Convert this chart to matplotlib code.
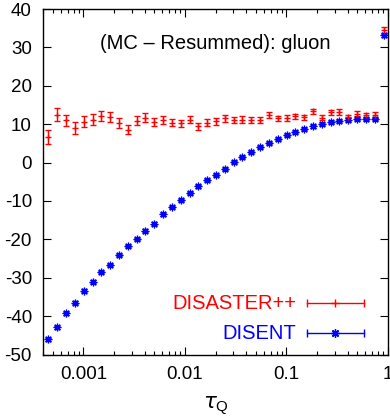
import matplotlib
matplotlib.use("Agg")
import matplotlib.pyplot as plt
from matplotlib.ticker import FixedLocator, FixedFormatter, LogLocator, NullFormatter

plt.rcParams['font.family'] = ['Liberation Sans', 'DejaVu Sans']
plt.rcParams['mathtext.fontset'] = 'custom'
plt.rcParams['mathtext.rm'] = 'Liberation Sans'
plt.rcParams['axes.unicode_minus'] = False

# bin centres in tau_Q
tau = [0.000453, 0.000553, 0.000676, 0.000825, 0.001008, 0.001231, 0.001503,
       0.001836, 0.002243, 0.002739, 0.003346, 0.004087, 0.004992, 0.006097,
       0.007447, 0.009095, 0.011109, 0.013569, 0.016573, 0.020242, 0.024724,
       0.030197, 0.036883, 0.045049, 0.055023, 0.067206, 0.082085, 0.100259,
       0.122456, 0.149569, 0.182684, 0.223130, 0.272532, 0.332871, 0.406570,
       0.496585, 0.606531, 0.740818, 0.904837]

disaster = [6.7, 12.5, 11.0, 9.0, 10.6, 11.2, 12.1, 11.9, 10.4, 8.6,
            10.9, 11.7, 10.6, 11.0, 10.4, 10.2, 11.2, 9.5, 10.4, 10.7,
            11.5, 11.1, 11.2, 11.1, 11.0, 12.3, 11.5, 11.6, 12.0, 11.8,
            13.3, 11.7, 13.1, 13.2, 11.8, 12.7, 12.3, 12.4, 34.6]
disaster_err = [1.75, 1.6, 1.5, 1.5, 1.4, 1.4, 1.35, 1.3, 1.3, 1.2,
                1.2, 1.1, 1.1, 1.0, 1.0, 0.95, 0.95, 0.9, 0.9, 0.9,
                0.85, 0.85, 0.8, 0.8, 0.8, 0.75, 0.75, 0.75, 0.7, 0.7,
                0.7, 0.7, 0.7, 0.7, 0.7, 0.7, 0.7, 0.7, 0.8]

disent = [-46.0, -42.9, -39.3, -36.5, -33.4, -31.0, -28.5, -26.6, -24.0, -21.7,
          -19.9, -17.7, -15.9, -13.5, -11.6, -9.8, -7.9, -6.2, -4.6, -3.2,
          -1.6, 0.1, 1.4, 2.7, 4.1, 5.1, 6.1, 7.1, 8.0, 8.7,
          9.4, 10.0, 10.5, 10.9, 11.2, 11.4, 11.4, 11.4, 33.2]
disent_err = [0.4, 0.4, 0.4, 0.35, 0.35, 0.35, 0.3, 0.3, 0.3, 0.3,
              0.3, 0.3, 0.3, 0.3, 0.3, 0.3, 0.3, 0.3, 0.3, 0.3,
              0.3, 0.3, 0.3, 0.3, 0.3, 0.3, 0.3, 0.3, 0.3, 0.3,
              0.3, 0.3, 0.3, 0.3, 0.3, 0.3, 0.3, 0.3, 0.4]

yticks = [-50, -40, -30, -20, -10, 0, 10, 20, 30, 40]
xticks = [0.001, 0.01, 0.1, 1]
xticklabels = ["0.001", "0.01", "0.1", "1"]

RED = "#ff0000"
BLUE = "#0000ff"
STAR = (8, 2, 0)
FS = 14.5
TFS = 13.5


def legend_key(ax, y, label, color, marker, ms):
    # gnuplot-like key: right aligned text, then horizontal bar with caps
    x0, x1 = 0.765, 0.930
    ax.text(0.733, y, label, color=color, ha='right', va='center',
            fontsize=FS, transform=ax.transAxes)
    ax.plot([x0, x1], [y, y], color=color, lw=1.0, transform=ax.transAxes,
            clip_on=False)
    ax.plot([x0, x1], [y, y], ls='none', marker='|', ms=6, mew=1.0,
            color=color, transform=ax.transAxes, clip_on=False)
    ax.plot([(x0 + x1) / 2], [y], ls='none', marker=marker, ms=ms, mew=1.0,
            color=color, transform=ax.transAxes, clip_on=False)


def main():
    fig = plt.figure(figsize=(3.9, 4.16), dpi=100)
    ax = fig.add_axes([43 / 390, 61.5 / 416, 345 / 390, 345.5 / 416])

    ax.errorbar(tau, disaster, yerr=disaster_err, fmt='+', color=RED,
                ms=4, mew=1.0, elinewidth=1.0, capsize=2.5, capthick=1.0)
    ax.errorbar(tau, disent, yerr=disent_err, fmt='none', color=BLUE,
                elinewidth=1.0, capsize=2.5, capthick=1.0)
    ax.plot(tau, disent, ls='none', marker=STAR, color=BLUE, ms=5.5, mew=0.9)

    legend_key(ax, 0.149, "DISASTER++", RED, '+', 6)
    legend_key(ax, 0.062, "DISENT", BLUE, STAR, 6)

    ax.set_xscale('log')
    ax.set_xlim(0.0004, 1)
    ax.set_ylim(-50, 40)

    ax.xaxis.set_major_locator(FixedLocator(xticks))
    ax.xaxis.set_major_formatter(FixedFormatter(xticklabels))
    ax.xaxis.set_minor_locator(LogLocator(base=10, subs=range(2, 10), numticks=20))
    ax.xaxis.set_minor_formatter(NullFormatter())
    ax.set_yticks(yticks)

    ax.tick_params(which='both', direction='in', top=True, right=True,
                   labelsize=TFS, width=0.8)
    ax.tick_params(axis='y', which='major', length=6, pad=8)
    ax.tick_params(axis='x', which='major', length=6, pad=8)
    ax.tick_params(which='minor', length=3)
    for s in ax.spines.values():
        s.set_linewidth(1.0)

    ax.set_xlabel(r'$\tau_{\mathrm{Q}}$', fontsize=FS + 1, labelpad=9)
    ax.text(0.5, 0.90, "(MC \u2013 Resummed): gluon", transform=ax.transAxes,
            ha='center', va='center', fontsize=FS)

    fig.savefig("out.png", dpi=100)


if __name__ == "__main__":
    main()
